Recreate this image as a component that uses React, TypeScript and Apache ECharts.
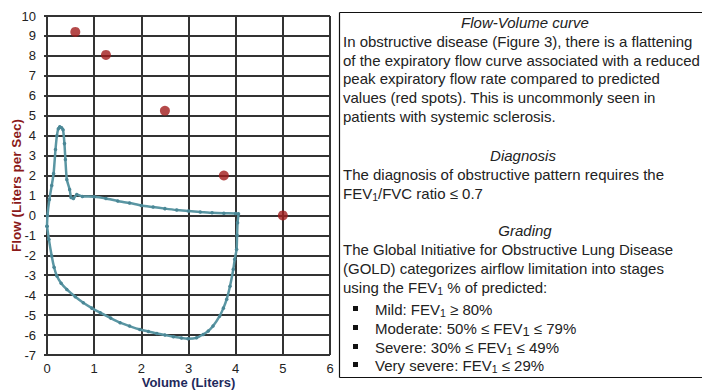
import React, { useEffect, useRef } from "react";
import * as echarts from "echarts";

// Measured flow-volume loop (Volume in liters, Flow in L/s)
const loopVolume = [
  0.0, 0.01, 0.05, 0.1, 0.14, 0.18, 0.21, 0.24, 0.27, 0.31, 0.34, 0.37, 0.39, 0.42, 0.48, 0.51,
  0.56, 0.63, 0.75, 1.0, 1.25, 1.5, 1.75, 2.0, 2.25, 2.5, 2.75, 3.0, 3.25, 3.5, 3.75, 4.0, 4.06,
  4.04, 4.03, 4.02, 3.98, 3.95, 3.88, 3.81, 3.74, 3.66, 3.52, 3.42, 3.31, 3.17, 2.99, 2.85, 2.68,
  2.5, 2.33, 2.15, 1.97, 1.75, 1.55, 1.35, 1.13, 0.95, 0.77, 0.6, 0.42, 0.3, 0.21, 0.15, 0.1,
  0.04, 0.0,
];
const loopFlow = [
  -0.54, 0.0, 0.8, 1.5, 2.1, 3.3, 4.0, 4.35, 4.45, 4.4, 4.3, 3.6, 2.8, 1.8, 1.3, 0.9,
  0.85, 1.05, 0.95, 0.94, 0.85, 0.72, 0.62, 0.5, 0.42, 0.34, 0.27, 0.22, 0.17, 0.13, 0.11, 0.1, 0.08,
  -0.37, -1.0, -1.7, -2.2, -2.7, -3.55, -4.2, -4.65, -5.05, -5.55, -5.8, -5.97, -6.14, -6.18, -6.15, -6.08,
  -6.0, -5.92, -5.82, -5.72, -5.55, -5.38, -5.15, -4.88, -4.65, -4.38, -4.08, -3.71, -3.4, -3.04, -2.6, -2.04,
  -1.2, -0.54,
];

// Predicted values (red spots)
const predVolume = [0.6, 1.25, 2.5, 3.75, 5.0];
const predFlow = [9.2, 8.05, 5.25, 2.0, 0.0];

const xMin = 0;
const xMax = 6;
const yMin = -7;
const yMax = 10;

const FONT = "'Liberation Sans', Arial, sans-serif";
const GRID_DARK = "#333333";

export default function App() {
  const ref = useRef<HTMLDivElement>(null);

  useEffect(() => {
    if (!ref.current) return;
    const chart = echarts.init(ref.current, undefined, { renderer: "svg" });

    const baseText = (text: string, x: number, y: number, extra: any = {}) => ({
      type: "text",
      x,
      y,
      silent: true,
      style: {
        text,
        fill: "#222",
        fontSize: 15,
        fontFamily: FONT,
        lineHeight: 19,
        align: "left",
        verticalAlign: "middle",
        rich: {
          s: { fontSize: 10.5, lineHeight: 10, verticalAlign: "bottom", fill: "#222", fontFamily: FONT },
          b: { fontSize: 13, lineHeight: 12, verticalAlign: "bottom", fill: "#222", fontFamily: FONT },
        },
        ...extra,
      },
    });

    const heading = (text: string, x: number, y: number) =>
      baseText(text, x, y, { align: "center", fontStyle: "italic" });

    const bullet = (y: number) => ({
      type: "rect",
      silent: true,
      shape: { x: 353, y: y - 3, width: 5, height: 5 },
      style: { fill: "#111" },
    });

    const left = 343;
    const tx = 375;

    chart.setOption({
      animation: false,
      grid: {
        left: 47,
        right: 372,
        top: 16,
        bottom: 35,
        outerBoundsMode: "none",
        containLabel: false,
      },
      xAxis: {
        type: "value",
        min: xMin,
        max: xMax,
        interval: 1,
        name: "Volume (Liters)",
        nameLocation: "middle",
        nameGap: 21,
        nameMoveOverlap: false,
        nameTextStyle: { color: "#1f2a5c", fontWeight: "bold", fontSize: 13, fontFamily: FONT },
        axisLine: { show: false },
        axisTick: { show: true, length: 3, lineStyle: { color: GRID_DARK, width: 2 } },
        axisLabel: { color: "#222", fontSize: 13, fontFamily: FONT, margin: 7 },
        splitLine: { show: true, lineStyle: { color: GRID_DARK, width: 2 } },
      },
      yAxis: {
        type: "value",
        min: yMin,
        max: yMax,
        interval: 1,
        name: "Flow (Liters per Sec)",
        nameLocation: "middle",
        nameGap: 24,
        nameMoveOverlap: false,
        nameTextStyle: { color: "#8b1a1a", fontWeight: "bold", fontSize: 13.5, fontFamily: FONT },
        axisLine: { show: false },
        axisTick: { show: true, length: 3, lineStyle: { color: GRID_DARK, width: 2 } },
        axisLabel: { color: "#222", fontSize: 13, fontFamily: FONT, margin: 11 },
        splitLine: { show: true, lineStyle: { color: GRID_DARK, width: 2 } },
      },
      series: [
        {
          type: "line",
          data: loopVolume.map((v, i) => [v, loopFlow[i]]),
          showSymbol: true,
          symbol: "circle",
          symbolSize: 3.5,
          smooth: 0.2,
          lineStyle: { color: "#5a96a3", width: 2.5 },
          itemStyle: { color: "#4a8796" },
          z: 3,
        },
        {
          type: "scatter",
          data: predVolume.map((v, i) => [v, predFlow[i]]),
          symbolSize: 10,
          itemStyle: { color: "#a11b1b" },
          z: 4,
        },
      ],
      graphic: [
        { type: "line", silent: true, shape: { x1: 339.5, y1: 12.5, x2: 702, y2: 12.5 }, style: { stroke: "#111", lineWidth: 1.2 } },
        { type: "line", silent: true, shape: { x1: 339.5, y1: 12.5, x2: 339.5, y2: 377.5 }, style: { stroke: "#111", lineWidth: 1.2 } },
        { type: "line", silent: true, shape: { x1: 339.5, y1: 377.5, x2: 702, y2: 377.5 }, style: { stroke: "#111", lineWidth: 1.2 } },
        heading("Flow-Volume curve", 525, 22),
        baseText("In obstructive disease (Figure 3), there is a flattening", left, 41),
        baseText("of the expiratory flow curve associated with a reduced", left, 60),
        baseText("peak expiratory flow rate compared to predicted", left, 78),
        baseText("values (red spots). This is uncommonly seen in", left, 97),
        baseText("patients with systemic sclerosis.", left, 116),
        heading("Diagnosis", 523, 155),
        baseText("The diagnosis of obstructive pattern requires the", left, 174),
        baseText("FEV{s|1}/FVC ratio ≤ 0.7", left, 193),
        heading("Grading", 525, 230),
        baseText("The Global Initiative for Obstructive Lung Disease", left, 249),
        baseText("(GOLD) categorizes airflow limitation into stages", left, 268),
        baseText("using the FEV{s|1} % of predicted:", left, 287),
        bullet(309),
        baseText("Mild: FEV{s|1} ≥ 80%", tx, 309),
        bullet(328),
        baseText("Moderate: 50% ≤ FEV{b|1} ≤ 79%", tx, 328),
        bullet(347),
        baseText("Severe: 30% ≤ FEV{s|1} ≤ 49%", tx, 347),
        bullet(365),
        baseText("Very severe: FEV{s|1} ≤ 29%", tx, 365),
      ],
    });

    return () => chart.dispose();
  }, []);

  return <div ref={ref} style={{ width: 702, height: 390, position: "absolute", left: 0, top: 0 }} />;
}
